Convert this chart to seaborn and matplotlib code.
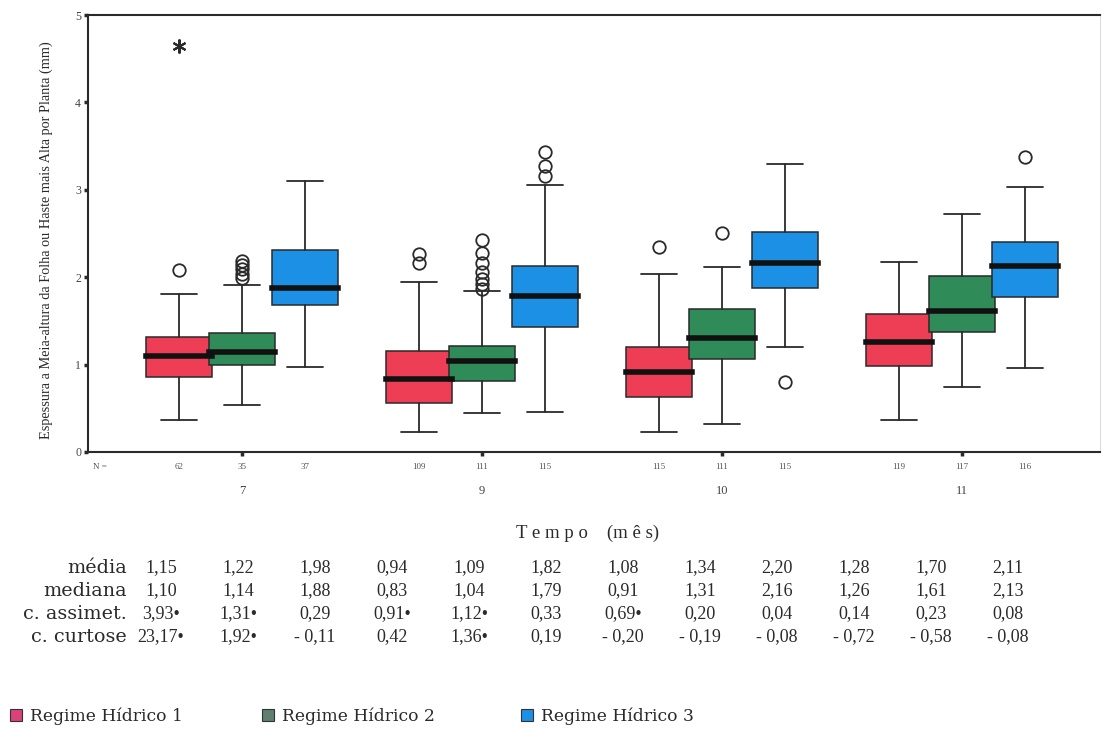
import matplotlib
matplotlib.use("Agg")
import matplotlib.pyplot as plt
from matplotlib.patches import Rectangle
import seaborn as sns

# ---- data -------------------------------------------------------------
months = ["7", "9", "10", "11"]
regimes = ["Regime Hídrico 1", "Regime Hídrico 2", "Regime Hídrico 3"]

# one entry per box, ordered month by month, regime 1..3
n_obs = [62, 35, 37, 109, 111, 115, 115, 111, 115, 119, 117, 116]
media = [1.15, 1.22, 1.98, 0.94, 1.09, 1.82, 1.08, 1.34, 2.20, 1.28, 1.70, 2.11]
mediana = [1.10, 1.14, 1.88, 0.83, 1.04, 1.79, 0.91, 1.31, 2.16, 1.26, 1.61, 2.13]
assimet = [3.93, 1.31, 0.29, 0.91, 1.12, 0.33, 0.69, 0.20, 0.04, 0.14, 0.23, 0.08]
assimet_sig = [True, True, False, True, True, False, True, False, False, False, False, False]
curtose = [23.17, 1.92, -0.11, 0.42, 1.36, 0.19, -0.20, -0.19, -0.08, -0.72, -0.58, -0.08]
curtose_sig = [True, True, False, False, True, False, False, False, False, False, False, False]

q1 = [0.86, 1.00, 1.68, 0.56, 0.81, 1.43, 0.63, 1.06, 1.88, 0.98, 1.37, 1.77]
q3 = [1.32, 1.36, 2.31, 1.16, 1.21, 2.13, 1.20, 1.64, 2.52, 1.58, 2.01, 2.40]
whis_lo = [0.37, 0.54, 0.97, 0.23, 0.45, 0.46, 0.23, 0.32, 1.20, 0.37, 0.74, 0.96]
whis_hi = [1.81, 1.91, 3.10, 1.95, 1.84, 3.06, 2.04, 2.12, 3.30, 2.17, 2.72, 3.03]
outliers = [[2.08], [1.99, 2.04, 2.09, 2.14, 2.18], [],
            [2.16, 2.26], [1.87, 1.92, 1.98, 2.06, 2.16, 2.28, 2.43], [3.16, 3.27, 3.43],
            [2.35], [2.51], [0.80],
            [], [], [3.38]]
extremes = [[4.65], [], [], [], [], [], [], [], [], [], [], []]

# ---- style ------------------------------------------------------------
sns.set_style("white")
plt.rcParams["font.family"] = ["Liberation Serif", "DejaVu Serif"]
wide_serif = ["DejaVu Serif"]
box_colors = sns.color_palette(["#EE3E56", "#2F8B58", "#1C90E4"])
legend_colors = ["#DA4379", "#5F7F6F", "#1C90E4"]
ink = "#2a2a2a"

fig = plt.figure(figsize=(11.03, 7.29), dpi=100)
W, H = 1103, 729
ax = fig.add_axes([88 / W, 1 - 452 / H, 1012 / W, 437 / H])

offset = 0.262
width = 0.275
stats, positions, colors = [], [], []
for i in range(len(n_obs)):
    g, k = divmod(i, 3)
    positions.append(g + (k - 1) * offset)
    colors.append(box_colors[k])
    stats.append(dict(med=mediana[i], q1=q1[i], q3=q3[i],
                      whislo=whis_lo[i], whishi=whis_hi[i],
                      fliers=outliers[i], label=str(n_obs[i])))

bp = ax.bxp(stats, positions=positions, widths=width, patch_artist=True,
            showfliers=True, capwidths=0.15,
            boxprops=dict(edgecolor=ink, linewidth=1.1),
            whiskerprops=dict(color=ink, linewidth=1.3),
            capprops=dict(color=ink, linewidth=1.3),
            medianprops=dict(color="#111111", linewidth=4, solid_capstyle="projecting"),
            flierprops=dict(marker="o", markersize=9, markerfacecolor="none",
                            markeredgecolor=ink, markeredgewidth=1.3))
for patch, c in zip(bp["boxes"], colors):
    patch.set_facecolor(c)

# extreme values drawn as asterisks
for x, vals in zip(positions, extremes):
    for v in vals:
        ax.plot(x, v, marker=(6, 2, 0), markersize=10, color=ink,
                markeredgewidth=1.5, linestyle="none")

ax.set_xlim(-0.642, 3.575)
ax.set_ylim(0, 5)

for side in ["left", "top", "bottom"]:
    ax.spines[side].set_color(ink)
    ax.spines[side].set_linewidth(1.5)
ax.spines["right"].set_color("#dddddd")
ax.spines["right"].set_linewidth(0.8)

ax.set_yticks([0, 1, 2, 3, 4, 5])
ax.set_yticklabels(["0", "1", "2", "3", "4", "5"], fontsize=8.5, color="#444444")
ax.tick_params(axis="y", left=True, length=3, width=2.5, color=ink, pad=2)

ax.set_xticks(range(len(months)))
ax.set_xticklabels(months, fontsize=9, color="#444444")
ax.tick_params(axis="x", bottom=True, length=3, width=2.5, color=ink, pad=21)

ax.set_ylabel("Espessura a Meia-altura da Folha ou Haste mais Alta por Planta (mm)",
              fontsize=10.3, color=ink)
ax.yaxis.set_label_coords(-0.035, 0.485)

# sample sizes under each box
trans = ax.get_xaxis_transform()
ax.text(-0.62, -0.034, "N =", transform=trans, ha="left", va="center",
        fontsize=6.5, color="#555555")
for x, n in zip(positions, n_obs):
    ax.text(x, -0.034, str(n), transform=trans, ha="center", va="center",
            fontsize=6.5, color="#555555")

fig.text(588 / W, 1 - 533 / H, "T e m p o    (m ê s)", ha="center", va="center",
         fontsize=13.5, color=ink)


# ---- summary table ----------------------------------------------------
def fmt(v, sig=False):
    s = f"{abs(v):.2f}".replace(".", ",")
    if v < 0:
        s = "- " + s
    return s + ("•" if sig else "")


rows = [
    ("média", [fmt(v) for v in media]),
    ("mediana", [fmt(v) for v in mediana]),
    ("c. assimet.", [fmt(v, s) for v, s in zip(assimet, assimet_sig)]),
    ("c. curtose", [fmt(v, s) for v, s in zip(curtose, curtose_sig)]),
]
row_y = [568, 591, 614, 637]
for (name, cells), y in zip(rows, row_y):
    fig.text(127 / W, 1 - y / H, name, ha="right", va="center",
             fontsize=13.8, family=wide_serif, color=ink)
    for j, s in enumerate(cells):
        x = 161 + j * 77.0
        fig.text(x / W, 1 - y / H, s, ha="center", va="center",
                 fontsize=13, color=ink)

# ---- legend -----------------------------------------------------------
legend_x = [10, 262, 521]
for x0, lab, c in zip(legend_x, regimes, legend_colors):
    fig.patches.append(Rectangle((x0 / W, 1 - 721 / H), 12 / W, 12 / H,
                                 transform=fig.transFigure, facecolor=c,
                                 edgecolor="#333333", linewidth=0.8))
    fig.text((x0 + 20) / W, 1 - 716 / H, lab, ha="left", va="center",
             fontsize=12.3, family=wide_serif, color=ink)

fig.savefig("out.png", dpi=100)
